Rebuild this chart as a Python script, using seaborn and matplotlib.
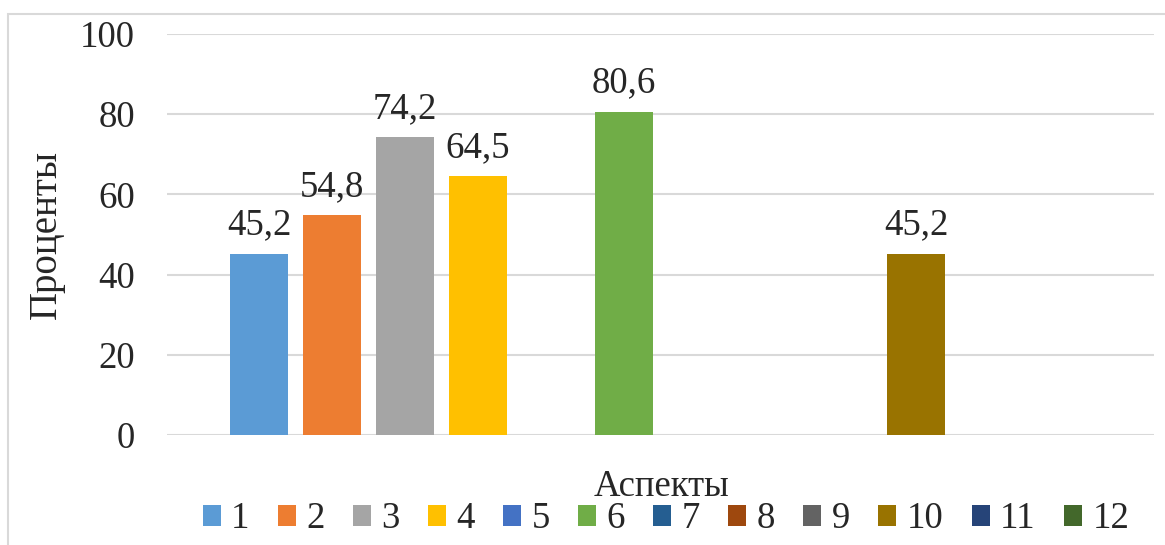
import matplotlib
matplotlib.use("Agg")
import matplotlib.pyplot as plt
from matplotlib.patches import Patch, Rectangle
import seaborn as sns
import pandas as pd

# Series (aspects) and their shares, %; aspects without data are 0
series = ["1", "2", "3", "4", "5", "6", "7", "8", "9", "10", "11", "12"]
values = [45.2, 54.8, 74.2, 64.5, 0, 80.6, 0, 0, 0, 45.2, 0, 0]
colors = ["#5B9BD5", "#ED7D31", "#A5A5A5", "#FFC000", "#4472C4", "#70AD47",
          "#255E91", "#9E480E", "#636363", "#997300", "#264478", "#43682B"]
y_ticks = [0, 20, 40, 60, 80, 100]

df = pd.DataFrame({"cat": ["Аспекты"] * len(series), "series": series, "value": values})

FS = 26.5

sns.set_theme(style="white")
plt.rcParams["font.family"] = "serif"
plt.rcParams["font.serif"] = ["Liberation Serif", "DejaVu Serif"]

fig = plt.figure(figsize=(11.65, 5.45), dpi=100)
ax = fig.add_axes([167 / 1165, 1 - 435 / 545, (1154 - 167) / 1165, (435 - 34) / 545])

sns.barplot(data=df, x="cat", y="value", hue="series", hue_order=series,
            palette=colors, width=0.8875, gap=0.2, saturation=1, linewidth=0,
            legend=False, ax=ax, errorbar=None)

ax.set_xlim(-0.5, 0.5)
ax.set_ylim(0, 100)
ax.set_yticks(y_ticks)
ax.set_yticklabels([str(t) for t in y_ticks], fontsize=FS)
ax.set_xticks([])
ax.set_xlabel("")
ax.set_ylabel("Проценты", fontsize=28)
ax.yaxis.set_label_coords(-102 / 987, 0.5)
ax.tick_params(axis="y", length=0, pad=23)
ax.grid(axis="y", color="#D9D9D9", linewidth=1.5)
ax.set_axisbelow(True)
for s in ax.spines.values():
    s.set_visible(False)

for cont, v in zip(ax.containers, values):
    labels = [f"{v:.1f}".replace(".", ",") if v > 0 else ""]
    ax.bar_label(cont, labels=labels, fontsize=FS, padding=8)

fig.text(662 / 1165, 1 - 487 / 545, "Аспекты", fontsize=FS, ha="center", va="center")

handles = [Patch(facecolor=c, edgecolor="none") for c in colors]
fig.legend(handles, series, ncol=12, loc="center", bbox_to_anchor=(666 / 1165, 1 - 519 / 545),
           frameon=False, fontsize=FS, handlelength=0.49, handleheight=0.49,
           handletextpad=0.28, columnspacing=0.77, borderaxespad=0)

# chart frame
fig.patches.append(Rectangle((8 / 1165, -0.1), 1.2, 1 - 14 / 545 + 0.1,
                             transform=fig.transFigure, fill=False,
                             edgecolor="#D9D9D9", linewidth=1.5))

fig.savefig("out.png", dpi=100)
